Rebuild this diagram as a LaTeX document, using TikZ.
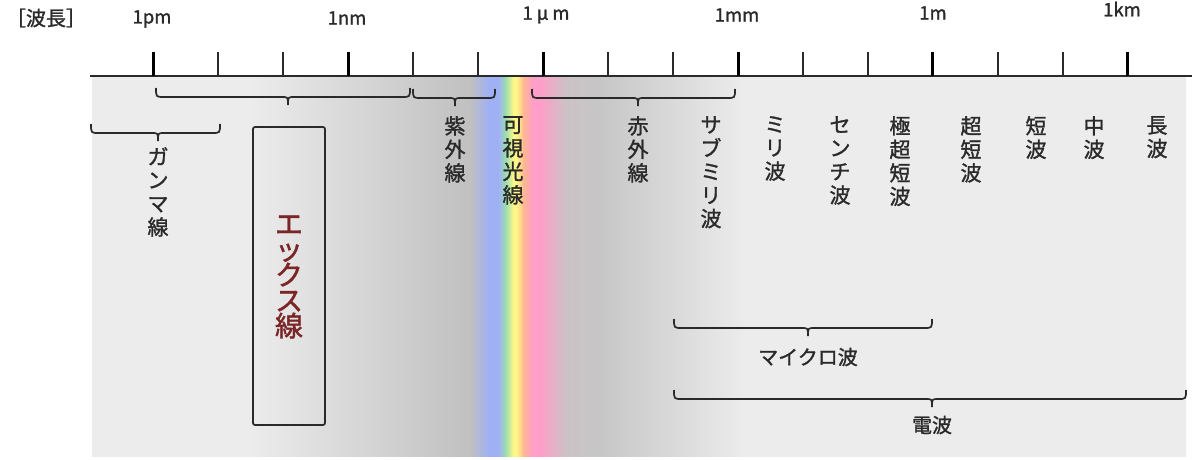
\documentclass[tikz,border=0pt]{standalone}
\usepackage{fontspec}
\setmainfont{Noto Sans CJK JP}[FakeBold=1.4]
\definecolor{bgA}{HTML}{ECECEC}
\definecolor{bgB}{HTML}{C0C0C0}
\definecolor{bgC}{HTML}{C6C6C6}
\definecolor{spBlue}{HTML}{A0B0F4}
\definecolor{spGreen}{HTML}{98DCB0}
\definecolor{spYellow}{HTML}{FFF888}
\definecolor{spOrange}{HTML}{FFB890}
\definecolor{spPink}{HTML}{FF9EC8}
\definecolor{spFade}{HTML}{CCC2C6}
\definecolor{inkc}{HTML}{2A2A2A}
\definecolor{xred}{HTML}{7A2626}
\newcommand\mybrc[4]{%
  \draw[brc] (#1,#3) .. controls (#1,#3+9) .. (#1+8,#3+9) -- (#4-6,#3+9)
    .. controls (#4,#3+9) .. (#4,#3+17) .. controls (#4,#3+9) .. (#4+6,#3+9)
    -- (#2-8,#3+9) .. controls (#2,#3+9) .. (#2,#3);}
\begin{document}
\begin{tikzpicture}[x=1pt,y=-1pt,
  brc/.style={draw=inkc,line width=1.7pt},
  majtick/.style={draw=black,line width=3pt},
  mintick/.style={draw=inkc,line width=1.5pt},
  ticklab/.style={inner sep=0pt,font=\fontsize{18.5}{20}\selectfont,text=inkc},
  vlab/.style={anchor=north,align=center,inner sep=0pt,font=\fontsize{21}{23.5}\selectfont,text=inkc},
  hlab/.style={inner sep=0pt,font=\fontsize{20}{23}\selectfont,text=inkc},
  xbox/.style={draw=inkc,line width=1.7pt,rounded corners=2pt,minimum width=72pt,minimum height=298pt,inner sep=0pt},
  xlab/.style={align=center,inner sep=0pt,font=\fontsize{28}{25.5}\selectfont,text=xred}]
\useasboundingbox (0,0) rectangle (1200,460);
\fill[white] (0,0) rectangle (1200,460);
% background with spectrum
\begin{scope}
\clip (92,78) rectangle (1186,456);
\fill[bgA] (90,70) rectangle (1190,462);
\shade[left color=bgA,right color=bgB] (250,70) rectangle (471,462);
\shade[left color=bgB,right color=spBlue] (470,70) rectangle (489,462);
\fill[spBlue] (488,70) rectangle (499,462);
\shade[left color=spBlue,right color=spGreen] (498,70) rectangle (506,462);
\shade[left color=spGreen,right color=spYellow] (505,70) rectangle (514,462);
\fill[spYellow] (513,70) rectangle (517,462);
\shade[left color=spYellow,right color=spOrange] (516,70) rectangle (524,462);
\shade[left color=spOrange,right color=spPink] (523,70) rectangle (533,462);
\fill[spPink] (532,70) rectangle (541,462);
\shade[left color=spPink,right color=spFade] (540,70) rectangle (566,462);
\shade[left color=spFade,right color=bgC] (565,70) rectangle (600,462);
\shade[left color=bgC,right color=bgA] (599,70) rectangle (745,462);
\end{scope}
% axis
\coordinate (axL) at (90,76);
\coordinate (axR) at (1192,76);
\draw[draw=inkc,line width=2pt] (axL) -- (axR);
\foreach \x in {153,348,543,738,932,1127} \draw[majtick] (\x,52) -- (\x,76);
\foreach \x in {218,283,413,478,608,673,803,868,998,1063} \draw[mintick] (\x,52) -- (\x,76);
% labels
\node[ticklab,font=\fontsize{20}{22}\selectfont] (wl) at (46,18) {［波長］};
\node[ticklab] (l1) at (152,19) {1pm};
\node[ticklab] (l2) at (347,18) {1nm};
\node[ticklab] (l3) at (546,15) {1\hspace{4pt}μ\hspace{4pt}m};
\node[ticklab] (l4) at (737,15) {1mm};
\node[ticklab] (l5) at (933,13) {1m};
\node[ticklab] (l6) at (1122,9) {1km};
% braces
\mybrc{156}{410}{88}{288}
\mybrc{413}{495}{89}{455}
\mybrc{532}{735}{89}{638}
\mybrc{91}{220}{124}{158}
\mybrc{674}{932}{319}{808}
\mybrc{674}{1186}{390}{932}
% vertical labels
\node[vlab] (gam) at (158,147) {ガ\\ン\\マ\\線};
\node[vlab] (uv) at (455,116) {紫\\外\\線};
\node[vlab] (vis) at (513,116) {可\\視\\光\\線};
\node[vlab] (ir) at (638,116) {赤\\外\\線};
\node[vlab] (sub) at (711,116) {サ\\ブ\\ミ\\リ\\波};
\node[vlab] (mm) at (775,116) {ミ\\リ\\波};
\node[vlab] (cm) at (840,116) {セ\\ン\\チ\\波};
\node[vlab] (uhf) at (900,116) {極\\超\\短\\波};
\node[vlab] (vhf) at (971,116) {超\\短\\波};
\node[vlab] (hf) at (1036,116) {短\\波};
\node[vlab] (mf) at (1094,116) {中\\波};
\node[vlab] (lf) at (1157,116) {長\\波};
% x-ray box
\node[xbox] (xb) at (289,276) {};
\node[xlab] (xt) at (289,277) {エ\\ッ\\ク\\ス\\線};
% horizontal labels
\node[hlab] (mw) at (808,357) {マイクロ波};
\node[hlab] (rw) at (932,425) {電波};
\end{tikzpicture}
\end{document}
